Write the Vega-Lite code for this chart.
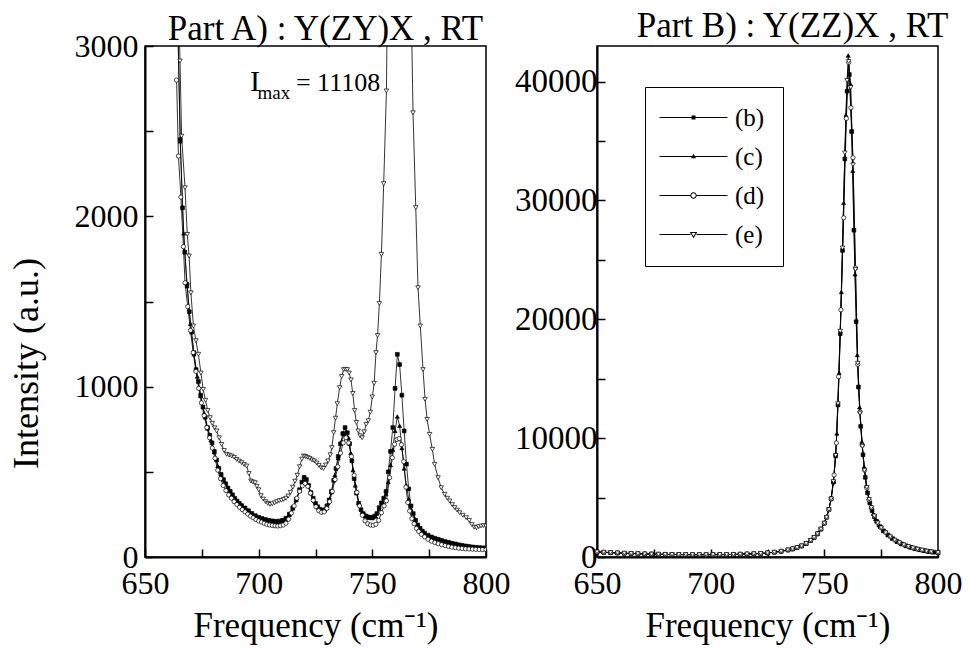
{
"$schema": "https://vega.github.io/schema/vega-lite/v6.json",
"padding": {"left": 7, "top": 8, "right": 5, "bottom": 5},
"background": "white",
"config": {
"view": {"stroke": "black", "strokeWidth": 1.5},
"font": "Liberation Serif",
"axis": {"grid": false, "domainColor": "black", "domainWidth": 2, "tickColor": "black", "tickWidth": 1.5, "tickSize": -8, "labelColor": "black", "titleColor": "black", "labelFont": "Liberation Serif", "titleFont": "Liberation Serif", "labelFontSize": 32, "titleFontSize": 35, "titleFontWeight": "normal", "labelFlush": false, "labelOverlap": false},
"title": {"font": "Liberation Serif", "fontSize": 35, "fontWeight": "normal", "color": "black", "anchor": "middle", "frame": "group"}
},
"resolve": {"scale": {"shape": "independent", "fill": "independent", "size": "independent"}, "legend": {"shape": "independent", "fill": "independent", "size": "independent"}},
"datasets": {
"A": [
{"s":"b","x":663.5,"y":3900},{"s":"b","x":664.5,"y":3100},{"s":"b","x":665.5,"y":2450},{"s":"b","x":666.5,"y":2050},{"s":"b","x":667.5,"y":1790},{"s":"b","x":668.5,"y":1600},{"s":"b","x":669.5,"y":1440},{"s":"b","x":670.5,"y":1320},{"s":"b","x":671.5,"y":1200},{"s":"b","x":672.5,"y":1100},{"s":"b","x":673.5,"y":1030},{"s":"b","x":674.5,"y":950},{"s":"b","x":675.5,"y":880},{"s":"b","x":676.5,"y":820},{"s":"b","x":677.5,"y":760},{"s":"b","x":678.5,"y":715},{"s":"b","x":679.5,"y":670},{"s":"b","x":680.5,"y":620},{"s":"b","x":681.5,"y":570},{"s":"b","x":682.5,"y":520},{"s":"b","x":683.5,"y":485},{"s":"b","x":684.5,"y":455},{"s":"b","x":685.5,"y":430},{"s":"b","x":686.5,"y":405},{"s":"b","x":687.5,"y":385},{"s":"b","x":688.5,"y":365},{"s":"b","x":689.5,"y":345},{"s":"b","x":690.5,"y":328},{"s":"b","x":691.5,"y":315},{"s":"b","x":692.5,"y":302},{"s":"b","x":694,"y":288},{"s":"b","x":695.5,"y":272},{"s":"b","x":697,"y":256},{"s":"b","x":698.5,"y":243},{"s":"b","x":700,"y":233},{"s":"b","x":701.5,"y":226},{"s":"b","x":703,"y":220},{"s":"b","x":704.5,"y":215},{"s":"b","x":706,"y":212},{"s":"b","x":707.5,"y":210},{"s":"b","x":709,"y":211},{"s":"b","x":710.5,"y":215},{"s":"b","x":712,"y":228},{"s":"b","x":713.5,"y":252},{"s":"b","x":715,"y":290},{"s":"b","x":716.5,"y":338},{"s":"b","x":718,"y":395},{"s":"b","x":719,"y":440},{"s":"b","x":720,"y":468},{"s":"b","x":721,"y":455},{"s":"b","x":722,"y":420},{"s":"b","x":723,"y":378},{"s":"b","x":724,"y":345},{"s":"b","x":725,"y":315},{"s":"b","x":726,"y":295},{"s":"b","x":727,"y":280},{"s":"b","x":728,"y":272},{"s":"b","x":729,"y":278},{"s":"b","x":730,"y":300},{"s":"b","x":731,"y":335},{"s":"b","x":732,"y":385},{"s":"b","x":733,"y":450},{"s":"b","x":734,"y":520},{"s":"b","x":735,"y":590},{"s":"b","x":736,"y":665},{"s":"b","x":737,"y":725},{"s":"b","x":738,"y":760},{"s":"b","x":739,"y":730},{"s":"b","x":740,"y":665},{"s":"b","x":741,"y":565},{"s":"b","x":742,"y":460},{"s":"b","x":743,"y":375},{"s":"b","x":744,"y":315},{"s":"b","x":745,"y":278},{"s":"b","x":746,"y":255},{"s":"b","x":747,"y":242},{"s":"b","x":748,"y":236},{"s":"b","x":749,"y":232},{"s":"b","x":750,"y":233},{"s":"b","x":751,"y":240},{"s":"b","x":752,"y":255},{"s":"b","x":753,"y":290},{"s":"b","x":754,"y":318},{"s":"b","x":755,"y":345},{"s":"b","x":756,"y":385},{"s":"b","x":757,"y":500},{"s":"b","x":758,"y":620},{"s":"b","x":759,"y":760},{"s":"b","x":760,"y":990},{"s":"b","x":761,"y":1190},{"s":"b","x":762,"y":1130},{"s":"b","x":763,"y":950},{"s":"b","x":764,"y":740},{"s":"b","x":765,"y":545},{"s":"b","x":766,"y":400},{"s":"b","x":767,"y":300},{"s":"b","x":768,"y":255},{"s":"b","x":769,"y":215},{"s":"b","x":770,"y":188},{"s":"b","x":771,"y":168},{"s":"b","x":772,"y":152},{"s":"b","x":773,"y":140},{"s":"b","x":774.5,"y":128},{"s":"b","x":776,"y":118},{"s":"b","x":777.5,"y":110},{"s":"b","x":779,"y":104},{"s":"b","x":780.5,"y":97},{"s":"b","x":782,"y":91},{"s":"b","x":783.5,"y":86},{"s":"b","x":785,"y":81},{"s":"b","x":786.5,"y":77},{"s":"b","x":788,"y":72},{"s":"b","x":789.5,"y":68},{"s":"b","x":791,"y":65},{"s":"b","x":792.5,"y":62},{"s":"b","x":794,"y":59},{"s":"b","x":795.5,"y":57},{"s":"b","x":797,"y":55},{"s":"b","x":798.5,"y":54},{"s":"b","x":800,"y":53},
{"s":"c","x":664,"y":3400},{"s":"c","x":665.5,"y":2440},{"s":"c","x":667,"y":1900},{"s":"c","x":668.5,"y":1590},{"s":"c","x":670,"y":1370},{"s":"c","x":671.5,"y":1190},{"s":"c","x":673,"y":1060},{"s":"c","x":674.5,"y":945},{"s":"c","x":676,"y":845},{"s":"c","x":677.5,"y":755},{"s":"c","x":679,"y":685},{"s":"c","x":680.5,"y":615},{"s":"c","x":682,"y":535},{"s":"c","x":683.5,"y":480},{"s":"c","x":685,"y":440},{"s":"c","x":686.5,"y":402},{"s":"c","x":688,"y":372},{"s":"c","x":689.5,"y":342},{"s":"c","x":691,"y":318},{"s":"c","x":692.5,"y":300},{"s":"c","x":694,"y":285},{"s":"c","x":695.5,"y":268},{"s":"c","x":697,"y":253},{"s":"c","x":698.5,"y":240},{"s":"c","x":700,"y":230},{"s":"c","x":701.5,"y":222},{"s":"c","x":703,"y":216},{"s":"c","x":704.5,"y":211},{"s":"c","x":706,"y":208},{"s":"c","x":707.5,"y":206},{"s":"c","x":709,"y":207},{"s":"c","x":710.5,"y":212},{"s":"c","x":712,"y":224},{"s":"c","x":713.5,"y":248},{"s":"c","x":715,"y":285},{"s":"c","x":716.5,"y":333},{"s":"c","x":718,"y":390},{"s":"c","x":719.5,"y":445},{"s":"c","x":720.5,"y":450},{"s":"c","x":721.5,"y":430},{"s":"c","x":723,"y":375},{"s":"c","x":724.5,"y":328},{"s":"c","x":726,"y":292},{"s":"c","x":727.5,"y":274},{"s":"c","x":729,"y":275},{"s":"c","x":730.5,"y":315},{"s":"c","x":732,"y":380},{"s":"c","x":733.5,"y":480},{"s":"c","x":735,"y":580},{"s":"c","x":736.5,"y":680},{"s":"c","x":737.5,"y":720},{"s":"c","x":738.5,"y":735},{"s":"c","x":739.5,"y":700},{"s":"c","x":740.5,"y":610},{"s":"c","x":741.5,"y":510},{"s":"c","x":742.5,"y":420},{"s":"c","x":744,"y":318},{"s":"c","x":745.5,"y":265},{"s":"c","x":747,"y":240},{"s":"c","x":748.5,"y":230},{"s":"c","x":750,"y":228},{"s":"c","x":751.5,"y":238},{"s":"c","x":753,"y":282},{"s":"c","x":754.5,"y":322},{"s":"c","x":756,"y":370},{"s":"c","x":757,"y":440},{"s":"c","x":758,"y":540},{"s":"c","x":759,"y":630},{"s":"c","x":760,"y":740},{"s":"c","x":761,"y":825},{"s":"c","x":762,"y":770},{"s":"c","x":763,"y":640},{"s":"c","x":764,"y":520},{"s":"c","x":765,"y":420},{"s":"c","x":766,"y":340},{"s":"c","x":767,"y":280},{"s":"c","x":768.5,"y":230},{"s":"c","x":770,"y":188},{"s":"c","x":771.5,"y":162},{"s":"c","x":773,"y":143},{"s":"c","x":775,"y":126},{"s":"c","x":777,"y":114},{"s":"c","x":779,"y":104},{"s":"c","x":781,"y":95},{"s":"c","x":783,"y":87},{"s":"c","x":785,"y":80},{"s":"c","x":787,"y":74},{"s":"c","x":789,"y":69},{"s":"c","x":791,"y":64},{"s":"c","x":793,"y":60},{"s":"c","x":795,"y":57},{"s":"c","x":797,"y":55},{"s":"c","x":799,"y":53},{"s":"c","x":800,"y":52},
{"s":"d","x":663.9,"y":2800},{"s":"d","x":664.7,"y":2354},{"s":"d","x":665.8,"y":2113},{"s":"d","x":666.9,"y":1822},{"s":"d","x":667.6,"y":1610},{"s":"d","x":668.8,"y":1470},{"s":"d","x":670,"y":1330},{"s":"d","x":671.2,"y":1200},{"s":"d","x":672.4,"y":1090},{"s":"d","x":673.6,"y":990},{"s":"d","x":674.8,"y":905},{"s":"d","x":676,"y":830},{"s":"d","x":677.2,"y":760},{"s":"d","x":678.4,"y":700},{"s":"d","x":679.6,"y":640},{"s":"d","x":680.8,"y":580},{"s":"d","x":682,"y":510},{"s":"d","x":683.2,"y":460},{"s":"d","x":684.4,"y":420},{"s":"d","x":685.6,"y":390},{"s":"d","x":686.8,"y":365},{"s":"d","x":688,"y":345},{"s":"d","x":689.2,"y":325},{"s":"d","x":690.4,"y":308},{"s":"d","x":691.6,"y":292},{"s":"d","x":692.8,"y":278},{"s":"d","x":694,"y":265},{"s":"d","x":695.2,"y":252},{"s":"d","x":696.4,"y":240},{"s":"d","x":697.6,"y":230},{"s":"d","x":698.8,"y":220},{"s":"d","x":700,"y":212},{"s":"d","x":701.2,"y":205},{"s":"d","x":702.4,"y":198},{"s":"d","x":703.6,"y":192},{"s":"d","x":704.8,"y":188},{"s":"d","x":706,"y":185},{"s":"d","x":707.2,"y":183},{"s":"d","x":708.4,"y":182},{"s":"d","x":709.6,"y":184},{"s":"d","x":710.8,"y":188},{"s":"d","x":712,"y":198},{"s":"d","x":713.2,"y":222},{"s":"d","x":714.4,"y":258},{"s":"d","x":715.6,"y":300},{"s":"d","x":716.8,"y":345},{"s":"d","x":718,"y":385},{"s":"d","x":719.2,"y":418},{"s":"d","x":720.4,"y":432},{"s":"d","x":721.6,"y":415},{"s":"d","x":722.8,"y":375},{"s":"d","x":724,"y":333},{"s":"d","x":725.2,"y":295},{"s":"d","x":726.4,"y":272},{"s":"d","x":727.6,"y":262},{"s":"d","x":728.8,"y":265},{"s":"d","x":730,"y":285},{"s":"d","x":731.2,"y":325},{"s":"d","x":732.4,"y":385},{"s":"d","x":733.6,"y":455},{"s":"d","x":734.8,"y":530},{"s":"d","x":736,"y":610},{"s":"d","x":737.2,"y":670},{"s":"d","x":738.4,"y":700},{"s":"d","x":739.6,"y":670},{"s":"d","x":740.8,"y":590},{"s":"d","x":742,"y":480},{"s":"d","x":743.2,"y":380},{"s":"d","x":744.4,"y":300},{"s":"d","x":745.6,"y":245},{"s":"d","x":746.8,"y":212},{"s":"d","x":748,"y":195},{"s":"d","x":749.2,"y":188},{"s":"d","x":750.4,"y":186},{"s":"d","x":751.6,"y":192},{"s":"d","x":752.8,"y":215},{"s":"d","x":754,"y":260},{"s":"d","x":755.2,"y":300},{"s":"d","x":756.2,"y":330},{"s":"d","x":757.6,"y":466},{"s":"d","x":758.8,"y":583},{"s":"d","x":759.8,"y":662},{"s":"d","x":760.8,"y":690},{"s":"d","x":761.8,"y":695},{"s":"d","x":762.8,"y":660},{"s":"d","x":763.8,"y":560},{"s":"d","x":764.8,"y":410},{"s":"d","x":765.6,"y":320},{"s":"d","x":766.4,"y":270},{"s":"d","x":767.4,"y":225},{"s":"d","x":768.4,"y":195},{"s":"d","x":769.4,"y":168},{"s":"d","x":770.4,"y":150},{"s":"d","x":771.6,"y":133},{"s":"d","x":773,"y":118},{"s":"d","x":774.5,"y":104},{"s":"d","x":776,"y":93},{"s":"d","x":777.5,"y":85},{"s":"d","x":779,"y":78},{"s":"d","x":780.5,"y":72},{"s":"d","x":782,"y":67},{"s":"d","x":783.5,"y":62},{"s":"d","x":785,"y":58},{"s":"d","x":786.5,"y":55},{"s":"d","x":788,"y":52},{"s":"d","x":789.5,"y":50},{"s":"d","x":791,"y":48},{"s":"d","x":792.5,"y":47},{"s":"d","x":794,"y":46},{"s":"d","x":795.5,"y":45},{"s":"d","x":797,"y":44},{"s":"d","x":798.5,"y":44},{"s":"d","x":800,"y":43},
{"s":"e","x":664.5,"y":3500},{"s":"e","x":665.4,"y":2912},{"s":"e","x":666.1,"y":2471},{"s":"e","x":667.6,"y":2168},{"s":"e","x":668.6,"y":1894},{"s":"e","x":669.4,"y":1767},{"s":"e","x":670.2,"y":1551},{"s":"e","x":671.3,"y":1356},{"s":"e","x":672.4,"y":1270},{"s":"e","x":673.5,"y":1190},{"s":"e","x":674.6,"y":1080},{"s":"e","x":675.6,"y":984},{"s":"e","x":676.6,"y":920},{"s":"e","x":677.6,"y":860},{"s":"e","x":678.6,"y":818},{"s":"e","x":679.6,"y":785},{"s":"e","x":680.6,"y":758},{"s":"e","x":681.5,"y":740},{"s":"e","x":682.6,"y":700},{"s":"e","x":683.7,"y":661},{"s":"e","x":684.8,"y":625},{"s":"e","x":685.9,"y":603},{"s":"e","x":687,"y":598},{"s":"e","x":688.1,"y":593},{"s":"e","x":689.2,"y":585},{"s":"e","x":690.3,"y":573},{"s":"e","x":691.4,"y":563},{"s":"e","x":692.5,"y":554},{"s":"e","x":693.6,"y":543},{"s":"e","x":694.7,"y":534},{"s":"e","x":695.7,"y":490},{"s":"e","x":696.6,"y":446},{"s":"e","x":697.5,"y":440},{"s":"e","x":698.4,"y":436},{"s":"e","x":699.2,"y":415},{"s":"e","x":700,"y":395},{"s":"e","x":701,"y":360},{"s":"e","x":702,"y":340},{"s":"e","x":703,"y":325},{"s":"e","x":704,"y":315},{"s":"e","x":705,"y":309},{"s":"e","x":706,"y":312},{"s":"e","x":707,"y":318},{"s":"e","x":708,"y":325},{"s":"e","x":709,"y":330},{"s":"e","x":710,"y":333},{"s":"e","x":711,"y":338},{"s":"e","x":712,"y":345},{"s":"e","x":713,"y":358},{"s":"e","x":714,"y":380},{"s":"e","x":715,"y":410},{"s":"e","x":716,"y":445},{"s":"e","x":717,"y":480},{"s":"e","x":718,"y":530},{"s":"e","x":719,"y":575},{"s":"e","x":719.8,"y":593},{"s":"e","x":720.6,"y":590},{"s":"e","x":721.5,"y":585},{"s":"e","x":722.5,"y":578},{"s":"e","x":723.5,"y":570},{"s":"e","x":724.5,"y":564},{"s":"e","x":725.5,"y":552},{"s":"e","x":726.5,"y":538},{"s":"e","x":727.5,"y":524},{"s":"e","x":728.5,"y":520},{"s":"e","x":729.5,"y":540},{"s":"e","x":730.5,"y":564},{"s":"e","x":731.5,"y":600},{"s":"e","x":732.2,"y":642},{"s":"e","x":733,"y":730},{"s":"e","x":733.8,"y":815},{"s":"e","x":734.6,"y":900},{"s":"e","x":735.6,"y":994},{"s":"e","x":736.5,"y":1060},{"s":"e","x":737.4,"y":1100},{"s":"e","x":738.2,"y":1102},{"s":"e","x":739,"y":1100},{"s":"e","x":739.8,"y":1080},{"s":"e","x":740.6,"y":1040},{"s":"e","x":741.4,"y":960},{"s":"e","x":742.2,"y":860},{"s":"e","x":743,"y":790},{"s":"e","x":743.8,"y":740},{"s":"e","x":744.6,"y":712},{"s":"e","x":745.5,"y":700},{"s":"e","x":746.4,"y":735},{"s":"e","x":747.3,"y":779},{"s":"e","x":748.2,"y":800},{"s":"e","x":749.1,"y":850},{"s":"e","x":750,"y":940},{"s":"e","x":750.8,"y":1020},{"s":"e","x":751.6,"y":1200},{"s":"e","x":752.3,"y":1300},{"s":"e","x":753.1,"y":1489},{"s":"e","x":754,"y":1777},{"s":"e","x":755,"y":2192},{"s":"e","x":756.2,"y":2736},{"s":"e","x":757.4,"y":4300},{"s":"e","x":758.6,"y":6900},{"s":"e","x":759.8,"y":9400},{"s":"e","x":761,"y":10900},{"s":"e","x":762.2,"y":11108},{"s":"e","x":763.4,"y":9900},{"s":"e","x":764.6,"y":7400},{"s":"e","x":765.8,"y":4900},{"s":"e","x":766.9,"y":3400},{"s":"e","x":767.9,"y":2608},{"s":"e","x":769.1,"y":2051},{"s":"e","x":770.1,"y":1581},{"s":"e","x":771.1,"y":1356},{"s":"e","x":772.3,"y":1100},{"s":"e","x":773.2,"y":926},{"s":"e","x":774.1,"y":808},{"s":"e","x":775.2,"y":720},{"s":"e","x":776.4,"y":632},{"s":"e","x":777.4,"y":544},{"s":"e","x":778.9,"y":466},{"s":"e","x":780.3,"y":407},{"s":"e","x":781.8,"y":368},{"s":"e","x":783,"y":345},{"s":"e","x":784,"y":329},{"s":"e","x":785.1,"y":308},{"s":"e","x":786.2,"y":290},{"s":"e","x":787.3,"y":275},{"s":"e","x":788.4,"y":260},{"s":"e","x":789.8,"y":245},{"s":"e","x":791.3,"y":231},{"s":"e","x":792.6,"y":215},{"s":"e","x":793.8,"y":190},{"s":"e","x":794.8,"y":175},{"s":"e","x":795.8,"y":172},{"s":"e","x":796.8,"y":178},{"s":"e","x":797.8,"y":182},{"s":"e","x":798.9,"y":184},{"s":"e","x":800,"y":182}
],
"B": [
{"s":"b","x":650,"y":430},{"s":"b","x":653,"y":400},{"s":"b","x":656,"y":370},{"s":"b","x":659,"y":340},{"s":"b","x":662,"y":315},{"s":"b","x":665,"y":295},{"s":"b","x":668,"y":275},{"s":"b","x":671,"y":258},{"s":"b","x":674,"y":243},{"s":"b","x":677,"y":230},{"s":"b","x":680,"y":220},{"s":"b","x":683,"y":212},{"s":"b","x":686,"y":205},{"s":"b","x":689,"y":200},{"s":"b","x":692,"y":196},{"s":"b","x":695,"y":194},{"s":"b","x":698,"y":194},{"s":"b","x":701,"y":196},{"s":"b","x":704,"y":200},{"s":"b","x":707,"y":208},{"s":"b","x":710,"y":218},{"s":"b","x":713,"y":232},{"s":"b","x":716,"y":250},{"s":"b","x":719,"y":272},{"s":"b","x":722,"y":300},{"s":"b","x":725,"y":340},{"s":"b","x":728,"y":400},{"s":"b","x":731,"y":480},{"s":"b","x":734,"y":590},{"s":"b","x":736,"y":680},{"s":"b","x":738,"y":790},{"s":"b","x":740,"y":930},{"s":"b","x":742,"y":1130},{"s":"b","x":744,"y":1400},{"s":"b","x":745.5,"y":1650},{"s":"b","x":747,"y":1950},{"s":"b","x":748.5,"y":2350},{"s":"b","x":750,"y":2850},{"s":"b","x":751,"y":3350},{"s":"b","x":752,"y":4000},{"s":"b","x":753,"y":4900},{"s":"b","x":754,"y":6300},{"s":"b","x":755,"y":8500},{"s":"b","x":756,"y":12800},{"s":"b","x":757,"y":18800},{"s":"b","x":758,"y":25800},{"s":"b","x":759,"y":33500},{"s":"b","x":760,"y":39200},{"s":"b","x":761,"y":40600},{"s":"b","x":762,"y":35800},{"s":"b","x":763,"y":27500},{"s":"b","x":764,"y":19800},{"s":"b","x":765,"y":14300},{"s":"b","x":766,"y":11000},{"s":"b","x":767,"y":8600},{"s":"b","x":768,"y":6700},{"s":"b","x":769,"y":5400},{"s":"b","x":770,"y":4550},{"s":"b","x":771,"y":3900},{"s":"b","x":772,"y":3400},{"s":"b","x":773,"y":3000},{"s":"b","x":774.5,"y":2550},{"s":"b","x":776,"y":2200},{"s":"b","x":778,"y":1850},{"s":"b","x":780,"y":1550},{"s":"b","x":782,"y":1300},{"s":"b","x":784,"y":1100},{"s":"b","x":786,"y":940},{"s":"b","x":788,"y":810},{"s":"b","x":790,"y":700},{"s":"b","x":792,"y":610},{"s":"b","x":794,"y":530},{"s":"b","x":796,"y":460},{"s":"b","x":798,"y":410},{"s":"b","x":800,"y":370},
{"s":"c","x":650,"y":440},{"s":"c","x":653,"y":405},{"s":"c","x":656,"y":372},{"s":"c","x":659,"y":342},{"s":"c","x":662,"y":318},{"s":"c","x":665,"y":296},{"s":"c","x":668,"y":277},{"s":"c","x":671,"y":259},{"s":"c","x":674,"y":244},{"s":"c","x":677,"y":231},{"s":"c","x":680,"y":221},{"s":"c","x":683,"y":213},{"s":"c","x":686,"y":206},{"s":"c","x":689,"y":201},{"s":"c","x":692,"y":197},{"s":"c","x":695,"y":195},{"s":"c","x":698,"y":195},{"s":"c","x":701,"y":197},{"s":"c","x":704,"y":201},{"s":"c","x":707,"y":209},{"s":"c","x":710,"y":219},{"s":"c","x":713,"y":233},{"s":"c","x":716,"y":252},{"s":"c","x":719,"y":275},{"s":"c","x":722,"y":305},{"s":"c","x":725,"y":345},{"s":"c","x":728,"y":405},{"s":"c","x":731,"y":485},{"s":"c","x":734,"y":595},{"s":"c","x":736,"y":685},{"s":"c","x":738,"y":800},{"s":"c","x":740,"y":940},{"s":"c","x":742,"y":1140},{"s":"c","x":744,"y":1410},{"s":"c","x":745.5,"y":1660},{"s":"c","x":747,"y":1960},{"s":"c","x":748.5,"y":2370},{"s":"c","x":750,"y":2870},{"s":"c","x":751,"y":3380},{"s":"c","x":752,"y":4050},{"s":"c","x":753,"y":4950},{"s":"c","x":754,"y":6400},{"s":"c","x":755,"y":8700},{"s":"c","x":755.5,"y":10400},{"s":"c","x":756.5,"y":15500},{"s":"c","x":757.5,"y":22300},{"s":"c","x":758.5,"y":29800},{"s":"c","x":759.5,"y":37200},{"s":"c","x":760.5,"y":42200},{"s":"c","x":761.5,"y":39800},{"s":"c","x":762.5,"y":32500},{"s":"c","x":763.5,"y":23800},{"s":"c","x":764.5,"y":17000},{"s":"c","x":765.5,"y":12600},{"s":"c","x":766.5,"y":9700},{"s":"c","x":767.5,"y":7600},{"s":"c","x":768.5,"y":6000},{"s":"c","x":769.5,"y":4950},{"s":"c","x":770.5,"y":4200},{"s":"c","x":771.5,"y":3650},{"s":"c","x":772.5,"y":3200},{"s":"c","x":774,"y":2700},{"s":"c","x":776,"y":2200},{"s":"c","x":778,"y":1860},{"s":"c","x":780,"y":1560},{"s":"c","x":782,"y":1310},{"s":"c","x":784,"y":1110},{"s":"c","x":786,"y":945},{"s":"c","x":788,"y":815},{"s":"c","x":790,"y":705},{"s":"c","x":792,"y":612},{"s":"c","x":794,"y":532},{"s":"c","x":796,"y":462},{"s":"c","x":798,"y":412},{"s":"c","x":800,"y":372},
{"s":"d","x":650,"y":420},{"s":"d","x":653,"y":395},{"s":"d","x":656,"y":365},{"s":"d","x":659,"y":338},{"s":"d","x":662,"y":312},{"s":"d","x":665,"y":292},{"s":"d","x":668,"y":273},{"s":"d","x":671,"y":256},{"s":"d","x":674,"y":241},{"s":"d","x":677,"y":228},{"s":"d","x":680,"y":218},{"s":"d","x":683,"y":210},{"s":"d","x":686,"y":203},{"s":"d","x":689,"y":198},{"s":"d","x":692,"y":194},{"s":"d","x":695,"y":192},{"s":"d","x":698,"y":192},{"s":"d","x":701,"y":194},{"s":"d","x":704,"y":198},{"s":"d","x":707,"y":206},{"s":"d","x":710,"y":216},{"s":"d","x":713,"y":230},{"s":"d","x":716,"y":248},{"s":"d","x":719,"y":270},{"s":"d","x":722,"y":298},{"s":"d","x":725,"y":338},{"s":"d","x":728,"y":398},{"s":"d","x":731,"y":478},{"s":"d","x":734,"y":588},{"s":"d","x":736,"y":678},{"s":"d","x":738,"y":788},{"s":"d","x":740,"y":928},{"s":"d","x":742,"y":1128},{"s":"d","x":744,"y":1395},{"s":"d","x":745.5,"y":1645},{"s":"d","x":747,"y":1945},{"s":"d","x":748.5,"y":2340},{"s":"d","x":750,"y":2840},{"s":"d","x":751,"y":3340},{"s":"d","x":752,"y":3980},{"s":"d","x":753,"y":4880},{"s":"d","x":754.3,"y":6900},{"s":"d","x":755.3,"y":9600},{"s":"d","x":756.3,"y":15170},{"s":"d","x":757.3,"y":20800},{"s":"d","x":758.5,"y":28540},{"s":"d","x":759.7,"y":36900},{"s":"d","x":760.7,"y":41620},{"s":"d","x":761.7,"y":37800},{"s":"d","x":762.6,"y":33600},{"s":"d","x":763.7,"y":24320},{"s":"d","x":764.7,"y":16200},{"s":"d","x":765.7,"y":12200},{"s":"d","x":766.7,"y":9400},{"s":"d","x":767.7,"y":7300},{"s":"d","x":768.7,"y":5800},{"s":"d","x":769.7,"y":4800},{"s":"d","x":770.7,"y":4150},{"s":"d","x":772,"y":3450},{"s":"d","x":773.5,"y":2850},{"s":"d","x":775,"y":2450},{"s":"d","x":777,"y":2050},{"s":"d","x":779,"y":1700},{"s":"d","x":781,"y":1420},{"s":"d","x":783,"y":1200},{"s":"d","x":785,"y":1020},{"s":"d","x":787,"y":875},{"s":"d","x":789,"y":755},{"s":"d","x":791,"y":655},{"s":"d","x":793,"y":570},{"s":"d","x":795,"y":495},{"s":"d","x":797,"y":435},{"s":"d","x":800,"y":365},
{"s":"e","x":650,"y":425},{"s":"e","x":653,"y":398},{"s":"e","x":656,"y":368},{"s":"e","x":659,"y":340},{"s":"e","x":662,"y":316},{"s":"e","x":665,"y":294},{"s":"e","x":668,"y":276},{"s":"e","x":671,"y":257},{"s":"e","x":674,"y":242},{"s":"e","x":677,"y":229},{"s":"e","x":680,"y":219},{"s":"e","x":683,"y":211},{"s":"e","x":686,"y":204},{"s":"e","x":689,"y":199},{"s":"e","x":692,"y":195},{"s":"e","x":695,"y":193},{"s":"e","x":698,"y":193},{"s":"e","x":701,"y":195},{"s":"e","x":704,"y":199},{"s":"e","x":707,"y":207},{"s":"e","x":710,"y":217},{"s":"e","x":713,"y":231},{"s":"e","x":716,"y":249},{"s":"e","x":719,"y":271},{"s":"e","x":722,"y":299},{"s":"e","x":725,"y":339},{"s":"e","x":728,"y":399},{"s":"e","x":731,"y":479},{"s":"e","x":734,"y":589},{"s":"e","x":736,"y":679},{"s":"e","x":738,"y":789},{"s":"e","x":740,"y":929},{"s":"e","x":742,"y":1129},{"s":"e","x":744,"y":1398},{"s":"e","x":745.5,"y":1648},{"s":"e","x":747,"y":1948},{"s":"e","x":748.5,"y":2345},{"s":"e","x":750,"y":2845},{"s":"e","x":751,"y":3345},{"s":"e","x":752,"y":3990},{"s":"e","x":753,"y":4890},{"s":"e","x":754,"y":6350},{"s":"e","x":755,"y":8550},{"s":"e","x":756,"y":12900},{"s":"e","x":757,"y":19000},{"s":"e","x":758,"y":26000},{"s":"e","x":759,"y":34000},{"s":"e","x":760,"y":40100},{"s":"e","x":760.7,"y":41700},{"s":"e","x":761.6,"y":39515},{"s":"e","x":762.6,"y":33000},{"s":"e","x":763.7,"y":24200},{"s":"e","x":764.7,"y":16300},{"s":"e","x":765.7,"y":12100},{"s":"e","x":766.7,"y":9300},{"s":"e","x":767.7,"y":7300},{"s":"e","x":768.7,"y":5850},{"s":"e","x":769.7,"y":4850},{"s":"e","x":770.7,"y":4150},{"s":"e","x":772,"y":3450},{"s":"e","x":773.5,"y":2860},{"s":"e","x":775,"y":2450},{"s":"e","x":777,"y":2040},{"s":"e","x":779,"y":1700},{"s":"e","x":781,"y":1420},{"s":"e","x":783,"y":1200},{"s":"e","x":785,"y":1020},{"s":"e","x":787,"y":875},{"s":"e","x":789,"y":755},{"s":"e","x":791,"y":655},{"s":"e","x":793,"y":570},{"s":"e","x":795,"y":495},{"s":"e","x":797,"y":435},{"s":"e","x":800,"y":368}
]
},
"bounds": "flush",
"spacing": 111,
"hconcat": [
{
"width": 341, "height": 511,
"title": {"text": "Part A) : Y(ZY)X , RT", "dx": 10, "dy": 21},
"data": {"name": "A"},
"layer": [
{"mark": {"type": "line", "clip": true, "stroke": "black", "strokeWidth": 0.8},
"encoding": {
"x": {"field": "x", "type": "quantitative", "scale": {"domain": [650, 800], "nice": false, "zero": false}, "axis": {"values": [650, 675, 700, 725, 750, 775, 800], "labelExpr": "datum.value % 50 === 0 ? datum.label : ''", "labelPadding": 19, "titlePadding": 9, "format": "d"}, "title": "Frequency (cm⁻¹)"},
"y": {"field": "y", "type": "quantitative", "scale": {"domain": [0, 3000], "nice": false}, "axis": {"values": [0, 500, 1000, 1500, 2000, 2500, 3000], "labelExpr": "datum.value % 1000 === 0 ? datum.label : ''", "format": "d", "labelPadding": 15, "titlePadding": 29, "titleY": 317, "titleFontSize": 36}, "title": "Intensity (a.u.)"},
"detail": {"field": "s"}}},
{"mark": {"type": "point", "clip": true, "filled": true, "stroke": "black", "strokeWidth": 0.7, "opacity": 1}, "encoding": {
"x": {"field": "x", "type": "quantitative"},
"y": {"field": "y", "type": "quantitative"},
"shape": {"field": "s", "scale": {"domain": ["b", "c", "d", "e"], "range": ["square", "triangle-up", "circle", "triangle-down"]}, "legend": null},
"fill": {"field": "s", "scale": {"domain": ["b", "c", "d", "e"], "range": ["black", "black", "white", "white"]}, "legend": null},
"size": {"field": "s", "scale": {"domain": ["b", "c", "d", "e"], "range": [14, 20, 34, 42]}, "legend": null}}},
{"data": {"values": [{"t": "I"}]}, "mark": {"type": "text", "font": "Liberation Serif", "fontSize": 30, "align": "left", "baseline": "alphabetic", "fill": "black"}, "encoding": {"text": {"field": "t"}, "x": {"datum": 696.2, "type": "quantitative"}, "y": {"datum": 2736, "type": "quantitative"}}},
{"data": {"values": [{"t": "max"}]}, "mark": {"type": "text", "font": "Liberation Serif", "fontSize": 19, "align": "left", "baseline": "alphabetic", "fill": "black"}, "encoding": {"text": {"field": "t"}, "x": {"datum": 699.5, "type": "quantitative"}, "y": {"datum": 2690, "type": "quantitative"}}},
{"data": {"values": [{"t": "= 11108"}]}, "mark": {"type": "text", "font": "Liberation Serif", "fontSize": 26, "align": "left", "baseline": "alphabetic", "fill": "black"}, "encoding": {"text": {"field": "t"}, "x": {"datum": 716.4, "type": "quantitative"}, "y": {"datum": 2736, "type": "quantitative"}}}
]
},
{
"width": 341, "height": 511,
"title": {"text": "Part B) : Y(ZZ)X , RT", "dx": 25, "dy": 2},
"data": {"name": "B"},
"encoding": {
"x": {"field": "x", "type": "quantitative", "scale": {"domain": [650, 800], "nice": false, "zero": false}, "axis": {"values": [650, 675, 700, 725, 750, 775, 800], "labelExpr": "datum.value % 50 === 0 ? datum.label : ''", "labelPadding": 19, "titlePadding": 9, "format": "d"}, "title": "Frequency (cm⁻¹)"},
"y": {"field": "y", "type": "quantitative", "scale": {"domain": [0, 43000], "nice": false}, "axis": {"values": [0, 5000, 10000, 15000, 20000, 25000, 30000, 35000, 40000], "labelExpr": "datum.value % 10000 === 0 ? datum.label : ''", "format": "d", "labelPadding": 8, "labelFontSize": 33}, "title": null}
},
"resolve": {"scale": {"shape": "independent", "fill": "independent", "size": "independent"}, "legend": {"shape": "independent", "fill": "independent", "size": "independent"}},
"layer": [
{"mark": {"type": "line", "stroke": "black", "strokeWidth": 0.8}, "encoding": {"detail": {"field": "s"}}},
{"mark": {"type": "point", "filled": true, "stroke": "black", "strokeWidth": 0.7, "opacity": 1}, "encoding": {
"shape": {"field": "s", "scale": {"domain": ["b", "c", "d", "e"], "range": ["square", "triangle-up", "circle", "triangle-down"]}, "legend": null},
"fill": {"field": "s", "scale": {"domain": ["b", "c", "d", "e"], "range": ["black", "black", "white", "white"]}, "legend": null},
"size": {"field": "s", "scale": {"domain": ["b", "c", "d", "e"], "range": [14, 20, 34, 42]}, "legend": null}}},
{"mark": {"type": "point", "filled": true, "opacity": 0}, "encoding": {
"shape": {"field": "s", "scale": {"domain": ["b", "c", "d", "e"], "range": ["M-3.4,-0.05H3.4V0.05H-3.4ZM-0.2,-0.2H0.2V0.2H-0.2Z", "M-3.4,-0.05H3.4V0.05H-3.4ZM0,-0.27L0.25,0.17L-0.25,0.17Z", "M-3.4,-0.05H-0.32V0.05H-3.4ZM0.32,-0.05H3.4V0.05H0.32ZM0.32,0A0.32,0.32,0,1,1,-0.32,0A0.32,0.32,0,1,1,0.32,0ZM0.22,0A0.22,0.22,0,1,0,-0.22,0A0.22,0.22,0,1,0,0.22,0Z", "M-3.4,-0.05H-0.3V0.05H-3.4ZM0.3,-0.05H3.4V0.05H0.3ZM-0.38,-0.26H0.38L0,0.38ZM-0.2,-0.16L0,0.18L0.2,-0.16Z"]},
"legend": {"orient": "none", "legendX": 48, "legendY": 41, "title": null, "padding": 18, "rowPadding": 13, "symbolSize": 400, "symbolOpacity": 1, "symbolOffset": 18, "labelOffset": 29, "labelFont": "Liberation Serif", "labelFontSize": 25, "labelColor": "black", "strokeColor": "black", "fillColor": "white", "labelExpr": "'(' + datum.label + ')'"}},
"fill": {"field": "s", "scale": {"domain": ["b", "c", "d", "e"], "range": ["black", "black", "black", "black"]},
"legend": {"orient": "none", "legendX": 48, "legendY": 41, "title": null, "padding": 18, "rowPadding": 13, "symbolSize": 400, "symbolOpacity": 1, "symbolOffset": 18, "labelOffset": 29, "labelFont": "Liberation Serif", "labelFontSize": 25, "labelColor": "black", "strokeColor": "black", "fillColor": "white", "labelExpr": "'(' + datum.label + ')'"}}}}
]
}
]
}
